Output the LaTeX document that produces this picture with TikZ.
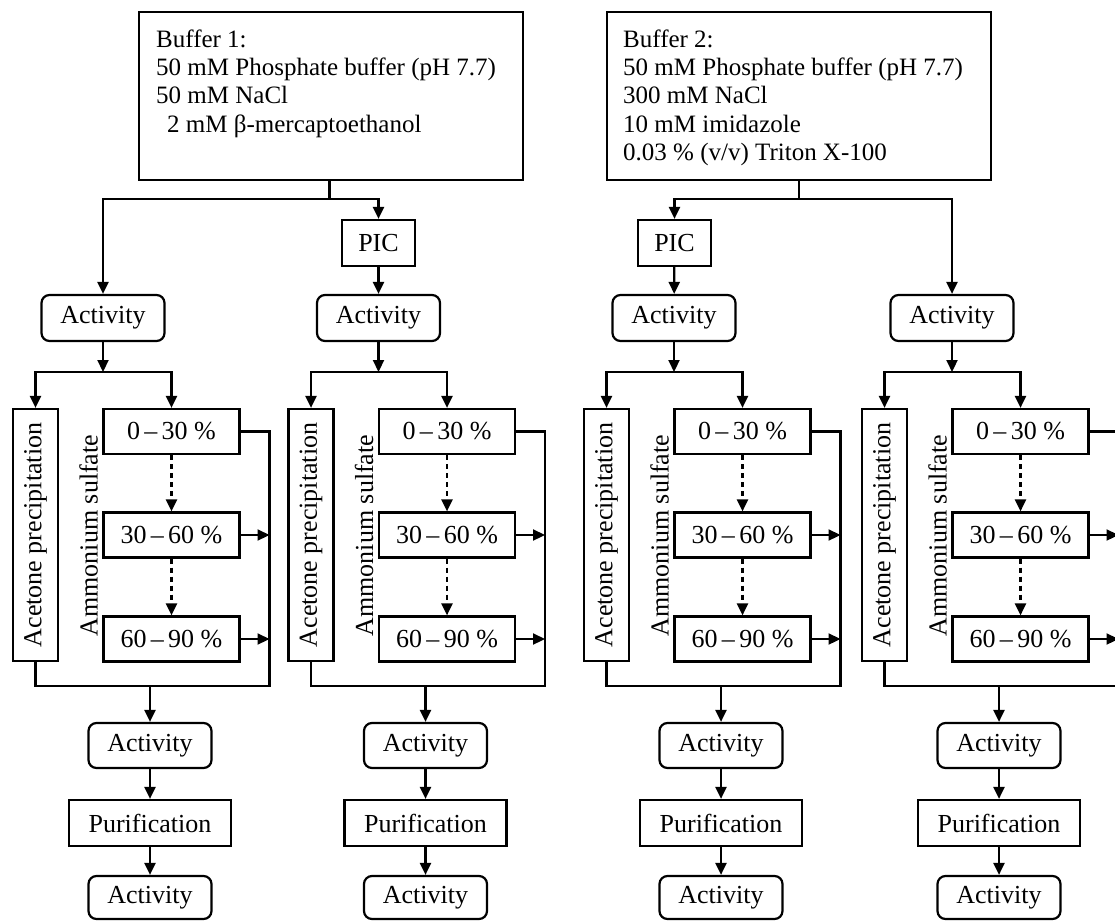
\documentclass[tikz,border=0pt]{standalone}
\usepackage{fontspec}
\usepackage{graphicx}
\setmainfont{Liberation Serif}
\usetikzlibrary{arrows.meta,calc}
\tikzset{
  lw/.style={line width=2.2pt},
  box/.style={draw, lw, inner sep=0pt, font=\fontsize{26}{30}\selectfont},
  sqbox/.style={box, minimum width=136pt, minimum height=45pt},
  rndbox/.style={box, rounded corners=8pt, minimum width=123pt, minimum height=46pt},
  picbox/.style={box, minimum width=73pt, minimum height=46pt},
  purbox/.style={box, minimum width=162pt, minimum height=46pt},
  acebox/.style={box, minimum width=45pt, minimum height=252pt},
  bufbox/.style={draw, lw, minimum height=168pt, minimum width=384pt, inner sep=0pt},
  btxt/.style={align=left, inner sep=0pt, font=\fontsize{25}{28.3}\selectfont},
  lbl/.style={inner sep=0pt, font=\fontsize{26}{30}\selectfont},
  arr/.style={lw, -{Triangle[length=12pt,width=11pt]}},
  dsharr/.style={arr, dash pattern=on 5pt off 4pt}
}
\begin{document}
\begin{tikzpicture}[x=1pt,y=-1pt]
\useasboundingbox (0,0) rectangle (1115,920);
\clip (0,0) rectangle (1115,920);

% buffers
\node[bufbox] (buf1) at (331,96) {};
\node[btxt, anchor=north west] (buf1t) at (156,29) {\rule{0pt}{18pt}Buffer 1:\\50 mM Phosphate buffer (pH 7.7)\\50 mM NaCl\\\hspace*{11pt}2 mM β-mercaptoethanol};
\node[bufbox] (buf2) at (799,96) {};
\node[btxt, anchor=north west] (buf2t) at (623,29) {\rule{0pt}{18pt}Buffer 2:\\50 mM Phosphate buffer (pH 7.7)\\300 mM NaCl\\10 mM imidazole\\0.03 \% (v/v) Triton X-100};

\coordinate (j1) at (329.5,199);
\coordinate (j2) at (799,199);

% PIC boxes
\node[picbox] (pic2) at (378.5,243) {PIC};
\node[picbox] (pic3) at (674.5,243) {PIC};

\foreach \c/\a in {1/35.5,2/311,3/606.5,4/884.5}{
  \node[rndbox] (act\c) at (\a+67.5,318) {Activity};
  \coordinate (sp\c) at (\a+67.5,372);
  \node[acebox] (ace\c) at (\a,535) {\rotatebox{90}{Acetone precipitation}};
  \node[lbl] (amm\c) at (\a+53,535.5) {\rotatebox{90}{Ammonium sulfate}};
  \node[sqbox] (raa\c) at (\a+136,431.5) {0\,–\,30 \%};
  \node[sqbox] (rab\c) at (\a+136,535) {30\,–\,60 \%};
  \node[sqbox] (rac\c) at (\a+136,639) {60\,–\,90 \%};
  \coordinate (bl\c) at (\a+234,686);
  \coordinate (st\c) at (\a+114.5,686);
  \node[rndbox, minimum height=45pt] (actb\c) at (\a+114.5,745.5) {Activity};
  \node[purbox] (pur\c) at (\a+114.5,823) {Purification};
  \node[rndbox, minimum height=43pt] (actc\c) at (\a+114.5,897.5) {Activity};

  \draw[arr] (act\c) -- (sp\c);
  \draw[arr] (sp\c) -| (ace\c);
  \draw[arr] (sp\c) -| (raa\c);
  \draw[dsharr] (raa\c) -- (rab\c);
  \draw[dsharr] (rab\c) -- (rac\c);
  \draw[lw] (ace\c) |- (bl\c) |- (raa\c);
  \draw[arr] (rab\c) -- (rab\c -| bl\c);
  \draw[arr] (rac\c) -- (rac\c -| bl\c);
  \draw[arr] (st\c) -- (actb\c);
  \draw[arr] (actb\c) -- (pur\c);
  \draw[arr] (pur\c) -- (actc\c);
}

% top connectors
\draw[lw] (j1 |- buf1.south) -- (j1);
\draw[arr] (j1) -| (act1);
\draw[arr] (j1) -| (pic2);
\draw[arr] (pic2) -- (act2);
\draw[lw] (buf2) -- (j2);
\draw[arr] (j2) -| (pic3);
\draw[arr] (j2) -| (act4);
\draw[arr] (pic3) -- (act3);
\end{tikzpicture}
\end{document}
